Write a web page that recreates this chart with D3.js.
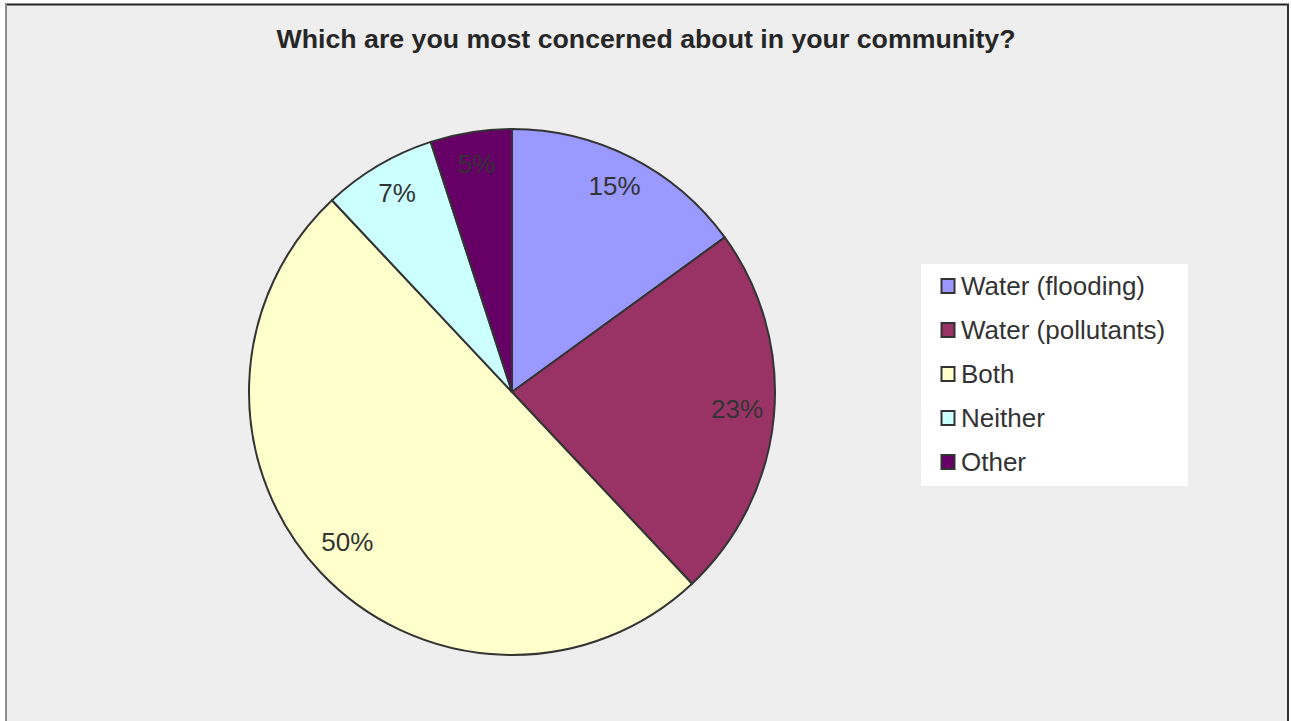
<!DOCTYPE html>
<html>
<head>
<meta charset="utf-8">
<script src="https://cdn.jsdelivr.net/npm/d3@7"></script>
<style>
  html, body { margin: 0; padding: 0; background: #ffffff; }
  svg { display: block; }
  text { font-family: "Liberation Sans", Arial, sans-serif; }
</style>
</head>
<body>
<svg id="chart" width="1291" height="721"></svg>
<script>
// Survey answers and their shares (percent)
const categories = ["Water (flooding)", "Water (pollutants)", "Both", "Neither", "Other"];
const values = [15, 23, 50, 7, 5];
const colors = ["#9999FF", "#993366", "#FFFFCC", "#CCFFFF", "#660066"];
const title = "Which are you most concerned about in your community?";

const svg = d3.select("#chart");
const W = 1291, H = 721;

// Chart area frame
svg.append("rect")
  .attr("x", 5).attr("y", 4).attr("width", 1283).attr("height", H)
  .attr("fill", "#eeeeee");
svg.append("line").attr("x1", 5).attr("x2", 1289).attr("y1", 4.5).attr("y2", 4.5)
  .attr("stroke", "#222").attr("stroke-width", 2);
svg.append("line").attr("x1", 6).attr("x2", 6).attr("y1", 4).attr("y2", H)
  .attr("stroke", "#8c8c8c").attr("stroke-width", 2);
svg.append("line").attr("x1", 1288).attr("x2", 1288).attr("y1", 4).attr("y2", H)
  .attr("stroke", "#333").attr("stroke-width", 2);

// Title
svg.append("text")
  .attr("x", 646).attr("y", 48)
  .attr("text-anchor", "middle")
  .attr("font-size", 25).attr("font-weight", "bold")
  .attr("fill", "#262626")
  .attr("textLength", 739).attr("lengthAdjust", "spacingAndGlyphs")
  .text(title);

// Pie
const cx = 512, cy = 392, r = 263;
const color = d3.scaleOrdinal().domain(categories).range(colors);
const pie = d3.pie().sort(null).value(d => d.value);
const data = categories.map((c, i) => ({ name: c, value: values[i] }));
const arcs = pie(data);
const arc = d3.arc().innerRadius(0).outerRadius(r);
const labelArc = d3.arc().innerRadius(226).outerRadius(226);

const g = svg.append("g").attr("transform", `translate(${cx},${cy})`);
g.selectAll("path.slice").data(arcs).enter().append("path")
  .attr("class", "slice")
  .attr("d", arc)
  .attr("fill", d => color(d.data.name))
  .attr("stroke", "#333")
  .attr("stroke-width", 2)
  .attr("stroke-linejoin", "round");

g.selectAll("text.pct").data(arcs).enter().append("text")
  .attr("class", "pct")
  .attr("transform", d => {
    const [x, y] = labelArc.centroid(d);
    return `translate(${x},${y - 5})`;
  })
  .attr("text-anchor", "middle")
  .attr("dy", "0.36em")
  .attr("font-size", 26)
  .attr("fill", "#333")
  .text(d => d.data.value + "%");

// Legend
const lg = svg.append("g").attr("transform", "translate(921,264)");
lg.append("rect").attr("width", 267).attr("height", 222).attr("fill", "#ffffff");
const item = lg.selectAll("g.item").data(categories).enter().append("g")
  .attr("class", "item")
  .attr("transform", (d, i) => `translate(0,${22 + i * 44})`);
item.append("rect")
  .attr("x", 20.5).attr("y", -7).attr("width", 13).attr("height", 14)
  .attr("fill", d => color(d))
  .attr("stroke", "#333").attr("stroke-width", 2);
item.append("text")
  .attr("x", 40).attr("y", 0).attr("dy", "0.36em")
  .attr("font-size", 26).attr("fill", "#333")
  .text(d => d);
</script>
</body>
</html>
